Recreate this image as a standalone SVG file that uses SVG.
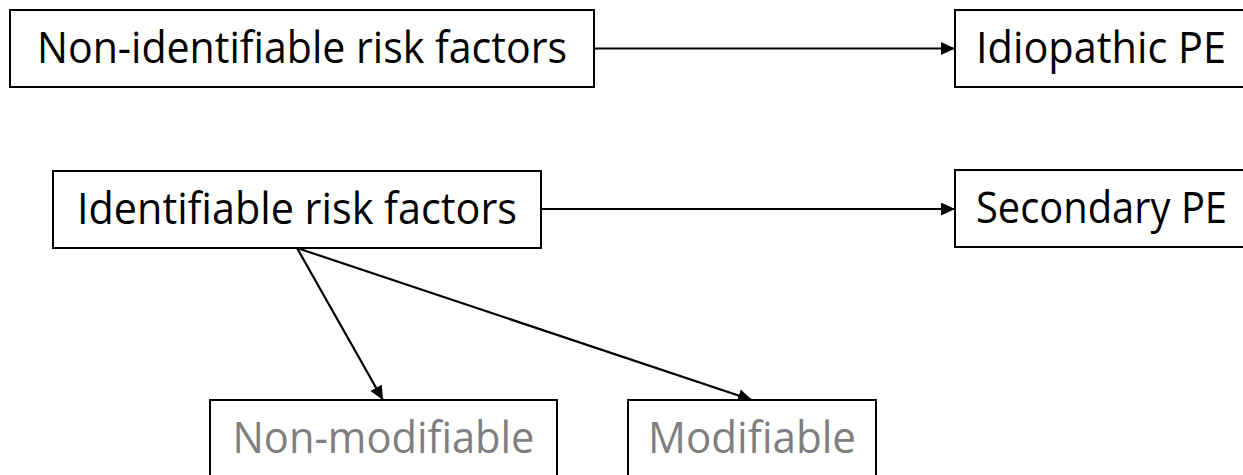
<svg xmlns="http://www.w3.org/2000/svg" width="1243" height="475" viewBox="0 0 1243 475">
  <style>
    .box { fill: #ffffff; stroke: #000000; stroke-width: 2; }
    .label { font-family: "Open Sans", "Liberation Sans", sans-serif; font-size: 44px; fill: #000000; }
    .muted { fill: #7f7f7f; }
    .edge { stroke: #000000; stroke-width: 2.2; fill: none; marker-end: url(#arrow); }
  </style>
  <defs>
    <marker id="arrow" markerUnits="userSpaceOnUse" markerWidth="15" markerHeight="14" refX="14" refY="6.5" orient="auto">
      <path d="M0,0 L14,6.5 L0,13 z" fill="#000000"/>
    </marker>
  </defs>

  <rect width="1243" height="475" fill="#ffffff"/>

  <!-- connectors -->
  <g id="connectors">
    <line class="edge" x1="594" y1="48.5" x2="955" y2="48.5"/>
    <line class="edge" x1="541" y1="209" x2="955" y2="209"/>
    <line class="edge" x1="297" y1="248" x2="383" y2="400"/>
    <line class="edge" x1="297" y1="248" x2="752" y2="400"/>
  </g>

  <!-- nodes -->
  <g id="non-identifiable">
    <rect class="box" x="10" y="10" width="584" height="77"/>
    <text class="label" x="302" y="63" text-anchor="middle" textLength="530" lengthAdjust="spacingAndGlyphs">Non-identifiable risk factors</text>
  </g>

  <g id="idiopathic">
    <rect class="box" x="955" y="10" width="289" height="77"/>
    <text class="label" x="976" y="63" textLength="250" lengthAdjust="spacingAndGlyphs">Idiopathic PE</text>
  </g>

  <g id="identifiable">
    <rect class="box" x="53" y="171" width="488" height="77"/>
    <text class="label" x="297" y="224" text-anchor="middle" textLength="440" lengthAdjust="spacingAndGlyphs">Identifiable risk factors</text>
  </g>

  <g id="secondary">
    <rect class="box" x="955" y="170" width="289" height="77"/>
    <text class="label" x="976" y="223" textLength="251" lengthAdjust="spacingAndGlyphs">Secondary PE</text>
  </g>

  <g id="non-modifiable">
    <rect class="box" x="210" y="400" width="347" height="76"/>
    <text class="label muted" x="383.5" y="453" text-anchor="middle" textLength="302" lengthAdjust="spacingAndGlyphs">Non-modifiable</text>
  </g>

  <g id="modifiable">
    <rect class="box" x="628" y="400" width="248" height="76"/>
    <text class="label muted" x="752" y="453" text-anchor="middle" textLength="208" lengthAdjust="spacingAndGlyphs">Modifiable</text>
  </g>
</svg>
